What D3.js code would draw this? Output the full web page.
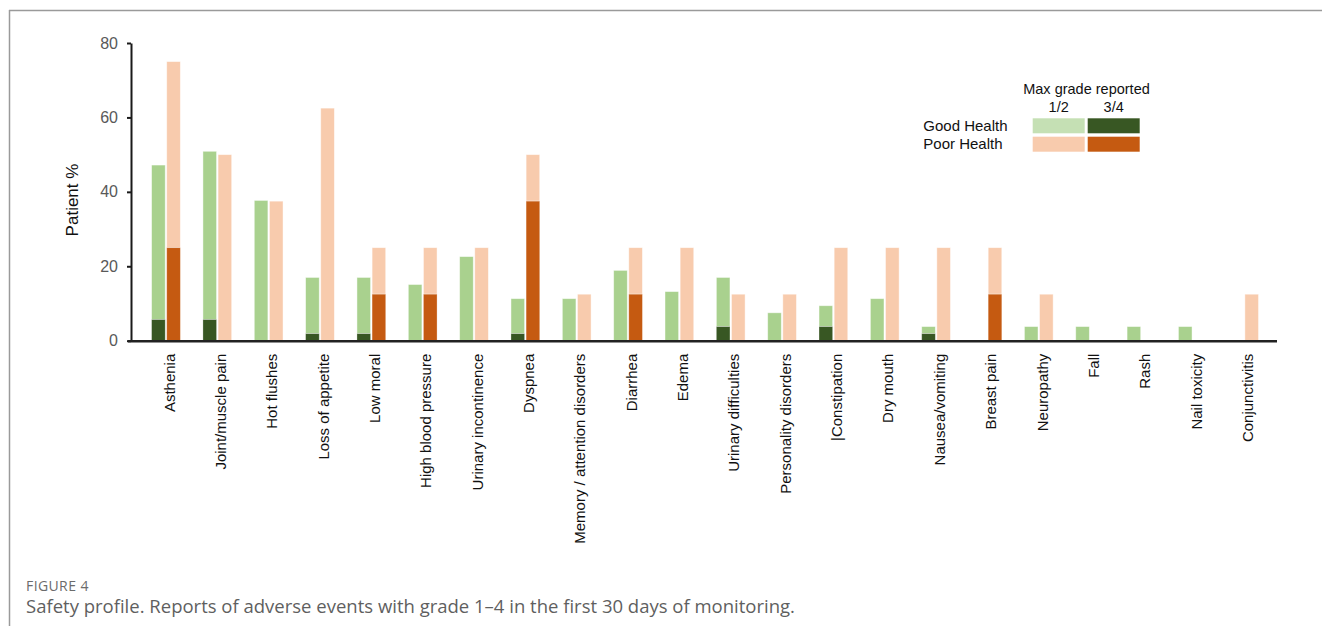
<!DOCTYPE html>
<html>
<head>
<meta charset="utf-8">
<script src="https://cdn.jsdelivr.net/npm/d3@7"></script>
<style>
  html, body { margin: 0; padding: 0; background: #fff; }
  svg { display: block; }
</style>
</head>
<body>
<svg id="chart" width="1322" height="626"></svg>
<script>
const categories = ["Asthenia", "Joint/muscle pain", "Hot flushes", "Loss of appetite", "Low moral",
  "High blood pressure", "Urinary incontinence", "Dyspnea", "Memory / attention disorders", "Diarrhea",
  "Edema", "Urinary difficulties", "Personality disorders", "|Constipation", "Dry mouth",
  "Nausea/vomiting", "Breast pain", "Neuropathy", "Fall", "Rash", "Nail toxicity", "Conjunctivitis"];
// Good Health: total % of patients (any grade) and % with max grade 3/4
const goodTotal  = [47.2, 50.9, 37.7, 17.0, 17.0, 15.1, 22.6, 11.3, 11.3, 18.9, 13.2, 17.0, 7.5, 9.4, 11.3, 3.8, 0, 3.8, 3.8, 3.8, 3.8, 0];
const goodSevere = [5.7, 5.7, 0, 1.9, 1.9, 0, 0, 1.9, 0, 0, 0, 3.8, 0, 3.8, 0, 1.9, 0, 0, 0, 0, 0, 0];
// Poor Health
const poorTotal  = [75, 50, 37.5, 62.5, 25, 25, 25, 50, 12.5, 25, 25, 12.5, 12.5, 25, 25, 25, 25, 12.5, 0, 0, 0, 12.5];
const poorSevere = [25, 0, 0, 0, 12.5, 12.5, 0, 37.5, 0, 12.5, 0, 0, 0, 0, 0, 0, 12.5, 0, 0, 0, 0, 0];
const yTicks = [0, 20, 40, 60, 80];
const groups = ["Good Health", "Poor Health"];
const gradeLabels = ["1/2", "3/4"];

const colors = {
  "Good Health": { light: "#a9d18e", dark: "#385723", legendLight: "#c5e0b4" },
  "Poor Health": { light: "#f8cbad", dark: "#c55a11", legendLight: "#f8cbad" }
};

const svg = d3.select("#chart");
const font = "'Liberation Sans', Arial, sans-serif";

// frame
svg.append("line").attr("x1", 9).attr("x2", 1322).attr("y1", 10.5).attr("y2", 10.5)
  .attr("stroke", "#9a9a9a").attr("stroke-width", 1.5);
svg.append("line").attr("x1", 9.5).attr("x2", 9.5).attr("y1", 10).attr("y2", 626)
  .attr("stroke", "#9a9a9a").attr("stroke-width", 1.5);

const y = d3.scaleLinear().domain([0, 80]).range([340.7, 43]);
const x = d3.scaleBand().domain(categories).range([140.3, 1269.8]).paddingInner(0.44).paddingOuter(0.22);
const xs = d3.scaleBand().domain(groups).range([0, x.bandwidth()]).paddingInner(0.1);

const rows = categories.map((c, i) => ({
  cat: c,
  vals: [
    { g: "Good Health", total: goodTotal[i], severe: goodSevere[i] },
    { g: "Poor Health", total: poorTotal[i], severe: poorSevere[i] }
  ]
}));

const gCat = svg.append("g").selectAll("g").data(rows).join("g")
  .attr("transform", d => `translate(${x(d.cat)},0)`);

// light (grade 1/2) part
gCat.selectAll("rect.light").data(d => d.vals.filter(v => v.total > v.severe)).join("rect")
  .attr("class", "light")
  .attr("x", v => xs(v.g)).attr("width", xs.bandwidth())
  .attr("y", v => y(v.total)).attr("height", v => y(v.severe) - y(v.total))
  .attr("fill", v => colors[v.g].light)
  .attr("stroke", "#ffffff").attr("stroke-opacity", 0.55).attr("stroke-width", 0.8);
// dark (grade 3/4) part
gCat.selectAll("rect.dark").data(d => d.vals.filter(v => v.severe > 0)).join("rect")
  .attr("class", "dark")
  .attr("x", v => xs(v.g)).attr("width", xs.bandwidth())
  .attr("y", v => y(v.severe)).attr("height", v => y(0) - y(v.severe))
  .attr("fill", v => colors[v.g].dark)
  .attr("stroke", "#ffffff").attr("stroke-opacity", 0.35).attr("stroke-width", 0.8);

// y axis
const yAxis = svg.append("g").attr("transform", "translate(131,0)")
  .call(d3.axisLeft(y).tickValues(yTicks).tickSize(4).tickPadding(9).tickSizeOuter(0));
yAxis.select(".domain").attr("stroke", "#1a1a1a").attr("stroke-width", 2);
yAxis.selectAll(".tick line").attr("stroke", "#1a1a1a").attr("stroke-width", 2);
yAxis.selectAll(".tick text").attr("font-family", font).attr("font-size", 16).attr("fill", "#595959");

// x axis
const xAxis = svg.append("g").attr("transform", `translate(0,${y(0)})`)
  .call(d3.axisBottom(x).tickSize(0).tickPadding(0));
xAxis.select(".domain").remove();
xAxis.append("line").attr("x1", 128).attr("x2", 1277).attr("y1", 0.5).attr("y2", 0.5)
  .attr("stroke", "#222").attr("stroke-width", 2.5);
xAxis.selectAll(".tick text")
  .attr("font-family", font).attr("font-size", 15).attr("fill", "#111")
  .attr("text-anchor", "end")
  .attr("transform", "translate(3.5,13) rotate(-90)")
  .attr("x", 0).attr("y", 0).attr("dy", "0.35em");

// y label
svg.append("text").attr("transform", "translate(72,200) rotate(-90)")
  .attr("text-anchor", "middle").attr("dy", "0.35em")
  .attr("font-family", font).attr("font-size", 17).attr("fill", "#111").text("Patient %");

// legend
const lg = svg.append("g");
lg.append("text").attr("x", 1086.5).attr("y", 94).attr("text-anchor", "middle")
  .attr("font-family", font).attr("font-size", 14.5).attr("fill", "#111").text("Max grade reported");
const swX = [1032.7, 1087.7];
gradeLabels.forEach((t, j) => {
  lg.append("text").attr("x", swX[j] + 26).attr("y", 112).attr("text-anchor", "middle")
    .attr("font-family", font).attr("font-size", 14.5).attr("fill", "#111").text(t);
});
groups.forEach((g, i) => {
  const yy = 118.3 + i * 18.4;
  lg.append("text").attr("x", 923.3).attr("y", yy + 12.5)
    .attr("font-family", font).attr("font-size", 15).attr("fill", "#111").text(g);
  lg.append("rect").attr("x", swX[0]).attr("y", yy).attr("width", 52).attr("height", 15)
    .attr("fill", colors[g].legendLight);
  lg.append("rect").attr("x", swX[1]).attr("y", yy).attr("width", 52).attr("height", 15)
    .attr("fill", colors[g].dark);
});

// caption
svg.append("text").attr("x", 26).attr("y", 591)
  .attr("font-family", "'Open Sans', sans-serif").attr("font-size", 14).attr("fill", "#6b6b6b")
  .attr("letter-spacing", 0.4)
  .text("FIGURE 4");
svg.append("text").attr("x", 26).attr("y", 613)
  .attr("font-family", "'Open Sans', sans-serif").attr("font-size", 18.5).attr("fill", "#5f5f5f")
  .text("Safety profile. Reports of adverse events with grade 1–4 in the first 30 days of monitoring.");
</script>
</body>
</html>
